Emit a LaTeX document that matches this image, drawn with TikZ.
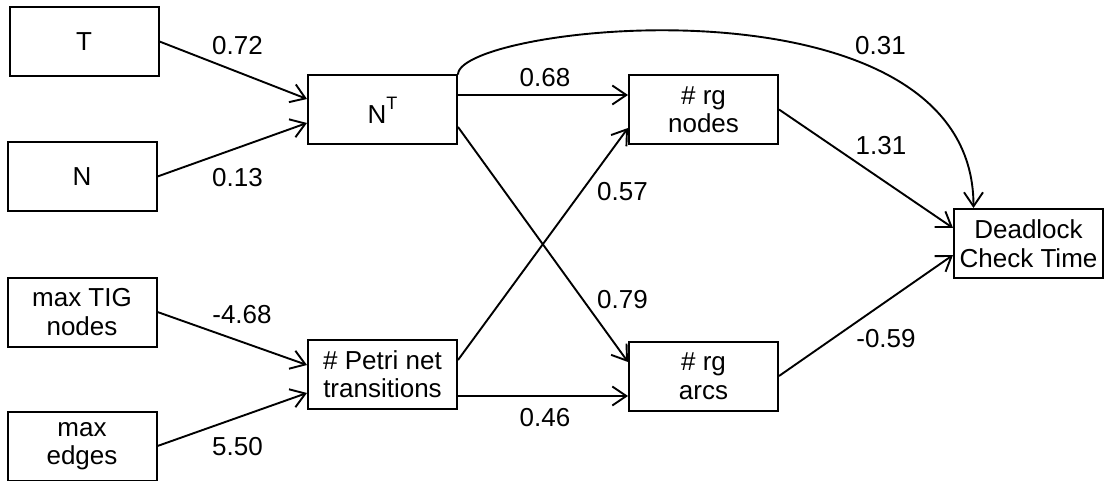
\documentclass[tikz,border=0pt]{standalone}
\usepackage{fontspec}
\setmainfont{Liberation Sans}
\usetikzlibrary{arrows.meta}
\begin{document}
\begin{tikzpicture}[x=1pt,y=-1pt,
  box/.style={draw, line width=2pt, minimum width=149pt, minimum height=69pt, inner sep=0pt, align=center, font=\fontsize{26}{28.5}\selectfont},
  lbl/.style={inner sep=0pt, font=\fontsize{26}{28.5}\selectfont},
  conn/.style={line width=1.9pt, -{Straight Barb[length=14pt,width=19pt,line width=1.9pt]}}]
\useasboundingbox (0,0) rectangle (1105,481);
\node[box] (T) at (84,41.5) {T};
\node[box] (N) at (82,176.5) {N};
\node[box] (NT) at (382.5,110) {N\raisebox{14pt}{\fontsize{18}{18}\selectfont T}};
\node[box] (TIG) at (82,312) {max TIG\\nodes};
\node[box] (E) at (82,446) {max\\edges};
\node[box] (P) at (382.5,374) {\# Petri net\\transitions};
\node[box] (RN) at (703.5,109.5) {\# rg\\nodes};
\node[box] (RA) at (703.5,376) {\# rg\\arcs};
\node[box] (D) at (1028.5,243.5) {Deadlock\\Check Time};

\draw[conn] (T.east) -- ([yshift=11pt]NT.west);
\draw[conn] (N.east) -- ([yshift=-13pt]NT.west);
\draw[conn] ([yshift=15pt]NT.east) -- ([yshift=14.5pt]RN.west);
\draw[conn] ([yshift=-17pt]NT.east) -- ([yshift=14pt]RA.west);
\draw[conn] ([yshift=14pt]P.east) -- ([yshift=-18.5pt]RN.west);
\draw[conn] ([yshift=-22pt]P.east) -- ([yshift=-20pt]RA.west);
\draw[conn] (RN.east) -- ([yshift=15.5pt]D.west);
\draw[conn] (RA.east) -- ([yshift=-11.5pt]D.west);
\draw[conn] (NT.north east) .. controls +(0,-50) and +(0,-240) .. ([xshift=-55pt]D.north);
\draw[conn] (TIG.east) -- ([yshift=9pt]P.west);
\draw[conn] (E.east) -- ([yshift=-19pt]P.west);

\node[lbl] (l1) at (237.5,46) {0.72};
\node[lbl] (l2) at (237.5,177.5) {0.13};
\node[lbl] (l3) at (545,78) {0.68};
\node[lbl] (l4) at (880.5,46) {0.31};
\node[lbl] (l5) at (881,146) {1.31};
\node[lbl] (l6) at (622.5,192) {0.57};
\node[lbl] (l7) at (622.5,300) {0.79};
\node[lbl] (l8) at (545,417.5) {0.46};
\node[lbl] (l9) at (886,338.5) {-0.59};
\node[lbl] (l10) at (242,315) {-4.68};
\node[lbl] (l11) at (237.5,446.5) {5.50};
\end{tikzpicture}
\end{document}
